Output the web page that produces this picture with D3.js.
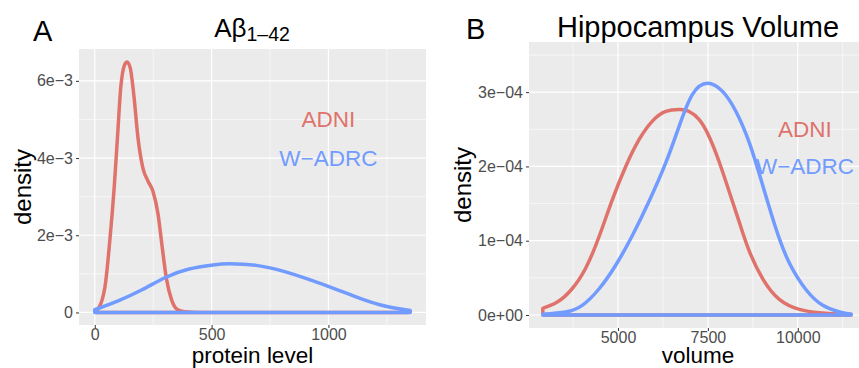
<!DOCTYPE html>
<html>
<head>
<meta charset="utf-8">
<script src="https://cdn.jsdelivr.net/npm/d3@7"></script>
<style>
  body { margin: 0; background: #fff; }
  text { font-family: "Liberation Sans", Arial, sans-serif; }
</style>
</head>
<body>
<div id="figure"></div>
<script>
// Panel A: Abeta 1-42 densities
var abAdniX = [8, 43, 64, 83, 97, 111, 128, 138, 152, 167, 185, 206, 228, 249, 271, 289, 306, 328, 353, 385, 450, 700, 1000, 1340];
var abAdniY = [0.03e-3, 0.64e-3, 1.84e-3, 3.23e-3, 4.52e-3, 5.81e-3, 6.42e-3, 6.49e-3, 6.33e-3, 5.64e-3, 4.52e-3, 3.74e-3, 3.40e-3, 3.14e-3, 2.54e-3, 1.67e-3, 0.90e-3, 0.34e-3, 0.08e-3, 0.02e-3, 0, 0, 0, 0];
var abWadrcX = [0, 100, 200, 300, 400, 506, 577, 691, 805, 919, 1033, 1147, 1246, 1350];
var abWadrcY = [0.07e-3, 0.30e-3, 0.58e-3, 0.90e-3, 1.12e-3, 1.23e-3, 1.26e-3, 1.22e-3, 1.07e-3, 0.85e-3, 0.60e-3, 0.34e-3, 0.16e-3, 0.05e-3];

// Panel B: hippocampus volume densities
var hvAdniX = [2910, 3300, 3700, 4100, 4470, 4841, 5215, 5585, 5956, 6330, 6720, 6979, 7258, 7536, 7815, 8094, 8373, 8651, 9022, 9487, 10045, 10602, 11100, 11480];
var hvAdniY = [0.09e-4, 0.17e-4, 0.34e-4, 0.63e-4, 1.05e-4, 1.55e-4, 2.00e-4, 2.36e-4, 2.61e-4, 2.74e-4, 2.765e-4, 2.74e-4, 2.63e-4, 2.40e-4, 2.06e-4, 1.66e-4, 1.25e-4, 0.86e-4, 0.49e-4, 0.21e-4, 0.075e-4, 0.03e-4, 0.015e-4, 0.01e-4];
var hvWadrcX = [2910, 3542, 4005, 4470, 4936, 5400, 5864, 6330, 6700, 7071, 7489, 7907, 8280, 8651, 9022, 9394, 9766, 10231, 10696, 11161, 11486];
var hvWadrcY = [0.01e-4, 0.04e-4, 0.13e-4, 0.35e-4, 0.67e-4, 1.07e-4, 1.53e-4, 2.05e-4, 2.54e-4, 2.97e-4, 3.12e-4, 3.01e-4, 2.74e-4, 2.32e-4, 1.75e-4, 1.16e-4, 0.70e-4, 0.34e-4, 0.13e-4, 0.04e-4, 0.01e-4];

// ticks
var abXTicks = [0, 500, 1000];
var abXMinor = [250, 750, 1250];
var abYTicks = [0, 2e-3, 4e-3, 6e-3];
var abYLabels = ["0", "2e\u22123", "4e\u22123", "6e\u22123"];
var abYMinor = [1e-3, 3e-3, 5e-3];
var hvXTicks = [5000, 7500, 10000];
var hvXMinor = [3750, 6250, 8750, 11250];
var hvYTicks = [0, 1e-4, 2e-4, 3e-4];
var hvYLabels = ["0e+00", "1e\u221204", "2e\u221204", "3e\u221204"];
var hvYMinor = [0.5e-4, 1.5e-4, 2.5e-4, 3.5e-4];

var red = "#df736b";
var blue = "#729bff";

var w = 859, h = 368;
var svg = d3.select("#figure").append("svg")
    .attr("width", w)
    .attr("height", h);

function drawPanel(opt) {
    var x = d3.scaleLinear().domain(opt.xDomain).range([opt.left, opt.right]);
    var y = d3.scaleLinear().domain(opt.yDomain).range([opt.bottom, opt.top]);
    var g = svg.append("g");

    g.append("rect")
        .attr("x", opt.left).attr("y", opt.top)
        .attr("width", opt.right - opt.left).attr("height", opt.bottom - opt.top)
        .attr("fill", "#ebebeb");

    // grid
    opt.xMinor.forEach(function(v) {
        g.append("line").attr("x1", x(v)).attr("x2", x(v)).attr("y1", opt.top).attr("y2", opt.bottom)
            .attr("stroke", "#fff").attr("stroke-width", 0.6);
    });
    opt.yMinor.forEach(function(v) {
        g.append("line").attr("y1", y(v)).attr("y2", y(v)).attr("x1", opt.left).attr("x2", opt.right)
            .attr("stroke", "#fff").attr("stroke-width", 0.6);
    });
    opt.xTicks.forEach(function(v) {
        g.append("line").attr("x1", x(v)).attr("x2", x(v)).attr("y1", opt.top).attr("y2", opt.bottom)
            .attr("stroke", "#fff").attr("stroke-width", 1.2);
    });
    opt.yTicks.forEach(function(v) {
        g.append("line").attr("y1", y(v)).attr("y2", y(v)).attr("x1", opt.left).attr("x2", opt.right)
            .attr("stroke", "#fff").attr("stroke-width", 1.2);
    });

    // density outlines (closed down to the baseline, like geom_density)
    opt.series.forEach(function(s) {
        var pts = s.xs.map(function(v, i) { return [v, s.ys[i]]; });
        var area = d3.area()
            .x(function(d) { return x(d[0]); })
            .y0(y(0))
            .y1(function(d) { return y(d[1]); })
            .curve(s.curve);
        g.append("path")
            .datum(pts)
            .attr("d", area)
            .attr("fill", "none")
            .attr("stroke", s.color)
            .attr("stroke-width", 3.5)
            .attr("stroke-linejoin", "round")
            .attr("stroke-linecap", "round");
    });

    // axes
    var xAxis = d3.axisBottom(x).tickValues(opt.xTicks).tickSize(3).tickPadding(1)
        .tickFormat(d3.format("d"));
    var gx = g.append("g").attr("transform", "translate(0," + opt.bottom + ")").call(xAxis);
    var yAxis = d3.axisLeft(y).tickValues(opt.yTicks).tickSize(3).tickPadding(3)
        .tickFormat(function(d, i) { return opt.yLabels[i]; });
    var gy = g.append("g").attr("transform", "translate(" + opt.left + ",0)").call(yAxis);
    [gx, gy].forEach(function(a) {
        a.select(".domain").remove();
        a.selectAll(".tick line").attr("stroke", "#333").attr("stroke-width", 1);
        a.selectAll(".tick text")
            .attr("fill", "#4d4d4d")
            .style("font-size", "16px")
            .style("font-family", "Liberation Sans, Arial, sans-serif");
    });

    // axis titles
    g.append("text")
        .attr("x", (opt.left + opt.right) / 2)
        .attr("y", 362.5)
        .attr("text-anchor", "middle")
        .style("font-size", "22.5px")
        .text(opt.xTitle);
    g.append("text")
        .attr("transform", "translate(" + opt.yTitleX + "," + (opt.top + opt.bottom) / 2 + ") rotate(-90)")
        .attr("text-anchor", "middle")
        .style("font-size", "24px")
        .text("density");

    // annotations
    opt.labels.forEach(function(l) {
        g.append("text")
            .attr("x", x(l.x))
            .attr("y", y(l.y) + 8)
            .attr("text-anchor", "middle")
            .attr("fill", l.color)
            .style("font-size", "22.5px")
            .text(l.text);
    });

    // panel letter
    g.append("text")
        .attr("x", opt.letterX)
        .attr("y", opt.letterY)
        .style("font-size", "29px")
        .text(opt.letter);

    return { x: x, y: y, g: g };
}

var pa = drawPanel({
    left: 79, right: 426, top: 49, bottom: 325,
    xDomain: [-67.5, 1417.5], yDomain: [-0.325e-3, 6.825e-3],
    xTicks: abXTicks, xMinor: abXMinor, yTicks: abYTicks, yLabels: abYLabels, yMinor: abYMinor,
    series: [
        { xs: abAdniX, ys: abAdniY, color: red, curve: d3.curveMonotoneX },
        { xs: abWadrcX, ys: abWadrcY, color: blue, curve: d3.curveNatural }
    ],
    labels: [
        { x: 1000, y: 5e-3, text: "ADNI", color: red },
        { x: 1000, y: 4e-3, text: "W\u2212ADRC", color: blue }
    ],
    xTitle: "protein level", yTitleX: 31,
    letter: "A", letterX: 33, letterY: 41
});

var pb = drawPanel({
    left: 529, right: 867, top: 42, bottom: 328,
    xDomain: [2525, 11925], yDomain: [-0.175e-4, 3.675e-4],
    xTicks: hvXTicks, xMinor: hvXMinor, yTicks: hvYTicks, yLabels: hvYLabels, yMinor: hvYMinor,
    series: [
        { xs: hvAdniX, ys: hvAdniY, color: red, curve: d3.curveNatural },
        { xs: hvWadrcX, ys: hvWadrcY, color: blue, curve: d3.curveNatural }
    ],
    labels: [
        { x: 10200, y: 2.5e-4, text: "ADNI", color: red },
        { x: 10200, y: 2e-4, text: "W\u2212ADRC", color: blue }
    ],
    xTitle: "volume", yTitleX: 471,
    letter: "B", letterX: 466, letterY: 39
});

// titles
var ta = svg.append("text")
    .attr("x", 252)
    .attr("y", 37)
    .attr("text-anchor", "middle")
    .style("font-size", "26px");
ta.append("tspan").text("A\u03b2");
ta.append("tspan").attr("dy", 3.5).style("font-size", "19.5px").text("1\u201342");

svg.append("text")
    .attr("x", 698)
    .attr("y", 37)
    .attr("text-anchor", "middle")
    .style("font-size", "29px")
    .text("Hippocampus Volume");
</script>
</body>
</html>
